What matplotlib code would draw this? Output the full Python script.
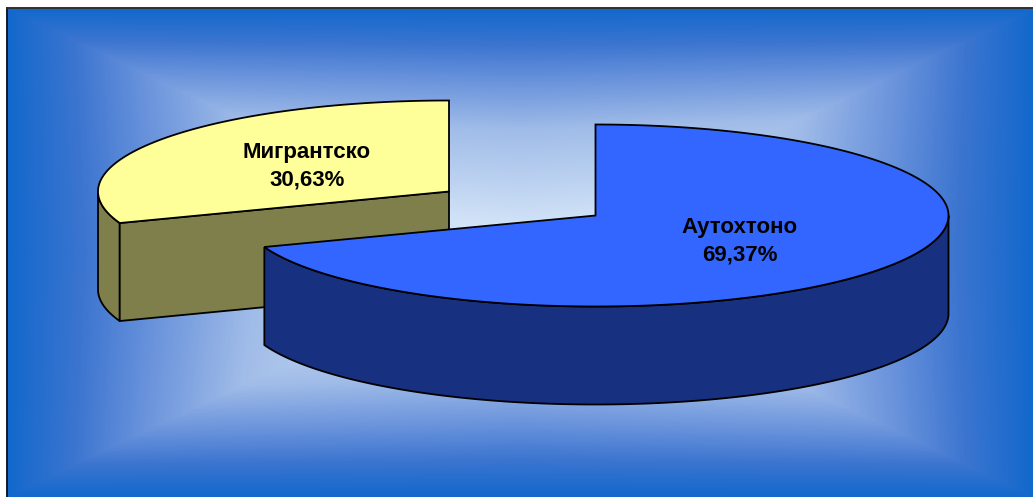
import numpy as np
import matplotlib
matplotlib.use("Agg")
import matplotlib.pyplot as plt
from matplotlib.colors import LinearSegmentedColormap
from matplotlib.patches import Polygon

# Data
labels = ["Аутохтоно", "Мигрантско"]
shares = [69.37, 30.63]

# Colours (top face, side face)
top_colors = ["#3366FF", "#FFFF99"]
side_colors = ["#17307F", "#7F7F4C"]

# Pie geometry in pixels
RX_BLUE, RX_YELLOW, RY = 353, 351, 91
DEPTH = 98
blue_center = (595.5, 215.5)
yellow_center = (449, 191.5)
W, H = 1033, 497

plt.rcParams['font.family'] = ['Liberation Sans', 'DejaVu Sans']

fig = plt.figure(figsize=(W / 100, H / 100), dpi=100)
ax = fig.add_axes([0, 0, 1, 1])
ax.set_xlim(0, W)
ax.set_ylim(H, 0)
ax.axis("off")

# Background, rectangular gradient from the middle out
x0, y0 = 7, 8
cx, cy = 520, 252
xx, yy = np.meshgrid(np.arange(x0, W), np.arange(y0, H))
u = np.abs(xx - cx) / (W - cx)
v = np.abs(yy - cy) / (cy - y0)
big = np.minimum(np.maximum(u, v), 1)
small = np.minimum(u, v)
t = np.clip(big - 0.18 * small * (1 - big), 0, 1)
cmap = LinearSegmentedColormap.from_list(
    "bg", [(0, "#E0EEFC"), (0.5, "#A0BCE8"), (0.7, "#6A93DC"), (0.85, "#3C75D0"), (1, "#1268CC")])
ax.imshow(t, cmap=cmap, vmin=0, vmax=1, extent=(x0, W, H, y0), aspect="auto", zorder=0)
ax.set_xlim(0, W)
ax.set_ylim(H, 0)
ax.plot([x0, x0], [y0, H], color="#101828", lw=1.4, zorder=1)
ax.plot([x0, W], [y0, y0], color="#303030", lw=1.4, zorder=1)


def rim(center, rx, a_from, a_to):
    # angles in degrees, clockwise from the top of the pie
    a = np.radians(np.linspace(a_from, a_to, 200))
    return center[0] + rx * np.sin(a), center[1] - RY * np.cos(a)


def add_poly(xs, ys, color, z):
    ax.add_patch(Polygon(np.column_stack([xs, ys]), closed=True, facecolor=color,
                         edgecolor="black", lw=1.3, joinstyle="miter", zorder=z))


boundary = shares[0] / sum(shares) * 360

# Migrant slice: outer side, cut side, then top
xs, ys = rim(yellow_center, RX_YELLOW, boundary, 270)
add_poly(np.r_[xs, xs[::-1]], np.r_[ys, ys[::-1] + DEPTH], side_colors[1], 2)
bx, by = rim(yellow_center, RX_YELLOW, boundary, boundary)
add_poly([yellow_center[0], bx[0], bx[0], yellow_center[0]],
         [yellow_center[1], by[0], by[0] + DEPTH, yellow_center[1] + DEPTH], side_colors[1], 2)
xs, ys = rim(yellow_center, RX_YELLOW, boundary, 360)
add_poly(np.r_[yellow_center[0], xs], np.r_[yellow_center[1], ys], top_colors[1], 3)

# Autochthonous slice: outer side, then top
xs, ys = rim(blue_center, RX_BLUE, 90, boundary)
add_poly(np.r_[xs, xs[::-1]], np.r_[ys, ys[::-1] + DEPTH], side_colors[0], 4)
xs, ys = rim(blue_center, RX_BLUE, 0, boundary)
add_poly(np.r_[blue_center[0], xs], np.r_[blue_center[1], ys], top_colors[0], 5)

# Labels
label_pos = [(739.5, 241), (307, 166)]
for name, val, (lx, ly) in zip(labels, shares, label_pos):
    ax.text(lx, ly, name + "\n" + f"{val:.2f}%".replace(".", ","), ha="center", va="center",
            fontsize=16, fontweight="bold", color="black", linespacing=1.38, zorder=6)

fig.savefig("out.png", dpi=100)
